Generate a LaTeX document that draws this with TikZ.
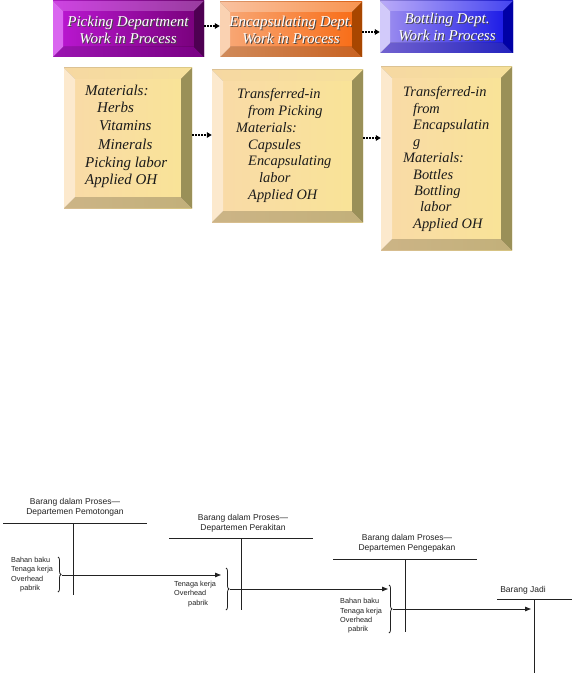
\documentclass[tikz,border=0pt]{standalone}
\usepackage{fontspec}
\setmainfont{Liberation Serif}
\newfontfamily\sansf{Liberation Sans}
\usetikzlibrary{arrows.meta,decorations.pathreplacing,fit,calc}
% purple
\definecolor{pPfl}{HTML}{BC18D4}\definecolor{pPfr}{HTML}{760078}
\definecolor{pPtl}{HTML}{CE44E2}\definecolor{pPtr}{HTML}{983C9E}
\definecolor{pPbl}{HTML}{9A14B0}\definecolor{pPbr}{HTML}{7A0084}
\definecolor{pPl}{HTML}{DA66F0}\definecolor{pPr}{HTML}{4E0052}
% orange
\definecolor{pOfl}{HTML}{F8AA7A}\definecolor{pOfr}{HTML}{F86A12}
\definecolor{pOtl}{HTML}{F9C2A0}\definecolor{pOtr}{HTML}{F89450}
\definecolor{pObl}{HTML}{D08A5A}\definecolor{pObr}{HTML}{C86222}
\definecolor{pOl}{HTML}{FAD2B2}\definecolor{pOr}{HTML}{A84600}
% blue
\definecolor{pBfl}{HTML}{A292F0}\definecolor{pBfr}{HTML}{1414E6}
\definecolor{pBtl}{HTML}{BAAAF8}\definecolor{pBtr}{HTML}{4444F0}
\definecolor{pBbl}{HTML}{7262D0}\definecolor{pBbr}{HTML}{2222BE}
\definecolor{pBl}{HTML}{D2CAFA}\definecolor{pBr}{HTML}{0000A6}
% yellow
\definecolor{pYfl}{HTML}{F9DAA8}\definecolor{pYfr}{HTML}{F9E496}
\definecolor{pYtl}{HTML}{F6D8A2}\definecolor{pYtr}{HTML}{F6E09A}
\definecolor{pYbl}{HTML}{CCB486}\definecolor{pYbr}{HTML}{C2B07A}
\definecolor{pYl}{HTML}{FCE9CD}\definecolor{pYr}{HTML}{9A9058}
\definecolor{inkk}{HTML}{1A1A1A}
\definecolor{lgray}{HTML}{222222}
\newcommand{\bevbox}[7]{%
  \fill[left color=#7fl,right color=#7fr] (#2,#3) rectangle (#4,#5);
  \fill[left color=#7tl,right color=#7tr] (#2,#3) -- (#4,#3) -- (#4-#6,#3+#6) -- (#2+#6,#3+#6) -- cycle;
  \fill[left color=#7bl,right color=#7br] (#2,#5) -- (#4,#5) -- (#4-#6,#5-#6) -- (#2+#6,#5-#6) -- cycle;
  \fill[#7l] (#2,#3) -- (#2+#6,#3+#6) -- (#2+#6,#5-#6) -- (#2,#5) -- cycle;
  \fill[#7r] (#4,#3) -- (#4-#6,#3+#6) -- (#4-#6,#5-#6) -- (#4,#5) -- cycle;
  \node[fit={(#2,#3) (#4,#5)},inner sep=0pt] (#1) {};%
}
\newcommand{\toptxt}[4]{%
  \node[toptext,text=black!72] (#1s) at (#2+1,#3+1) {#4};
  \node[toptext,text=white] (#1) at (#2,#3) {#4};%
}
\tikzset{
  toptext/.style={anchor=base,inner sep=0pt,font=\fontsize{15}{18}\selectfont\itshape},
  bigtxt/.style={anchor=base west,inner sep=0pt,text=inkk,font=\fontsize{15}{18}\selectfont\itshape},
  midtxt/.style={anchor=base west,inner sep=0pt,text=inkk,font=\fontsize{14.4}{17}\selectfont\itshape},
  dotarr/.style={draw=black,line width=1.7pt,dash pattern=on 1.6pt off 1.4pt,-{Triangle[length=5pt,width=5.5pt]}},
  title/.style={align=center,inner sep=0pt,text=lgray,font=\sansf\fontsize{8.5}{10}\selectfont},
  lbl/.style={align=left,anchor=west,inner sep=0pt,text=lgray,font=\sansf\fontsize{7.3}{9.3}\selectfont},
  tline/.style={draw=lgray,line width=0.75pt},
  brc/.style={draw=lgray,line width=0.75pt,decorate,decoration={brace,amplitude=3pt}},
  flow/.style={draw=lgray,line width=1pt,-{Triangle[length=6pt,width=4.5pt]}}
}
\begin{document}
\begin{tikzpicture}[x=1pt,y=-1pt]
\useasboundingbox (0,0) rectangle (572,674);
\fill[white] (0,0) rectangle (572,674);
% ---------- top boxes ----------
\bevbox{p1}{53}{1}{204}{57}{10}{pP}
\bevbox{p2}{220}{2}{362}{57}{10}{pO}
\bevbox{p3}{380}{1}{513}{53}{10}{pB}
\toptxt{p1a}{128}{27}{Picking Department}
\toptxt{p1b}{128}{44}{Work in Process}
\toptxt{p2a}{291}{27}{Encapsulating Dept.}
\toptxt{p2b}{291}{44}{Work in Process}
\toptxt{p3a}{447}{24}{Bottling Dept.}
\toptxt{p3b}{447}{41}{Work in Process}
\draw[dotarr] (p1.east |- 0,26) -- (p2.west |- 0,26);
\draw[dotarr] (p2.east |- 0,32) -- (p3.west |- 0,32);
% ---------- lower boxes ----------
\bevbox{ba}{64}{68}{192}{208}{11}{pY}
\bevbox{bb}{212}{70}{363}{222}{11}{pY}
\bevbox{bc}{381}{67}{512}{250}{11}{pY}
\node[bigtxt] (a1) at (85,96) {Materials:};
\node[bigtxt] (a2) at (97,113) {Herbs};
\node[bigtxt] (a3) at (99,131) {Vitamins};
\node[bigtxt] (a4) at (98,149) {Minerals};
\node[bigtxt] (a5) at (85,167) {Picking labor};
\node[bigtxt] (a6) at (85,184) {Applied OH};
\node[midtxt] (b1) at (237,99) {Transferred-in};
\node[midtxt] (b2) at (248,115.7) {from Picking};
\node[midtxt] (b3) at (236,132.4) {Materials:};
\node[midtxt] (b4) at (248,149) {Capsules};
\node[midtxt] (b5) at (248,165.8) {Encapsulating};
\node[midtxt] (b6) at (259,182.5) {labor};
\node[midtxt] (b7) at (248,199.2) {Applied OH};
\node[midtxt] (c1) at (403,97) {Transferred-in};
\node[midtxt] (c2) at (413,113.4) {from};
\node[midtxt] (c3) at (413,129.8) {Encapsulatin};
\node[midtxt] (c4) at (413,146.2) {g};
\node[midtxt] (c5) at (403,162.6) {Materials:};
\node[midtxt] (c6) at (413,179) {Bottles};
\node[midtxt] (c7) at (414,195.4) {Bottling};
\node[midtxt] (c8) at (420,211.8) {labor};
\node[midtxt] (c9) at (413,228.2) {Applied OH};
\draw[dotarr] (ba.east |- 0,135) -- (bb.west |- 0,135);
\draw[dotarr] (bb.east |- 0,138) -- (bc.west |- 0,138);
% ---------- T accounts ----------
\node[title] (t1) at (75,507) {Barang dalam Proses—\\Departemen Pemotongan};
\node[title] (t2) at (243,523) {Barang dalam Proses—\\Departemen Perakitan};
\node[title] (t3) at (407,543) {Barang dalam Proses—\\Departemen Pengepakan};
\node[title] (t4) at (523,590) {Barang Jadi};
\draw[tline] (3,523) -- (147,523);
\draw[tline] (73,523) -- (73,595);
\draw[tline] (169,538) -- (313,538);
\draw[tline] (241,538) -- (241,610);
\draw[tline] (333,559) -- (477,559);
\draw[tline] (405,559) -- (405,632);
\draw[tline] (497,599) -- (572,599);
\draw[tline] (534,599) -- (534,673);
\node[lbl] (l1) at (11,574.6) {Bahan baku\\Tenaga kerja\\Overhead\\\hspace*{9pt}pabrik};
\node[lbl] (l2) at (174,594) {Tenaga kerja\\Overhead\\\hspace*{14pt}pabrik};
\node[lbl] (l3) at (340,616) {Bahan baku\\Tenaga kerja\\Overhead\\\hspace*{8pt}pabrik};
\draw[brc] (58,557) -- (58,592);
\draw[brc] (226,568) -- (226,610);
\draw[brc] (389,585) -- (389,633);
\coordinate (k1) at (62,575);
\coordinate (k2) at (230,589);
\coordinate (k3) at (393,609);
\coordinate (e1) at (221,575);
\coordinate (e2) at (388,589);
\coordinate (e3) at (531,609);
\draw[flow] (k1) -- (e1);
\draw[flow] (k2) -- (e2);
\draw[flow] (k3) -- (e3);
\end{tikzpicture}
\end{document}
